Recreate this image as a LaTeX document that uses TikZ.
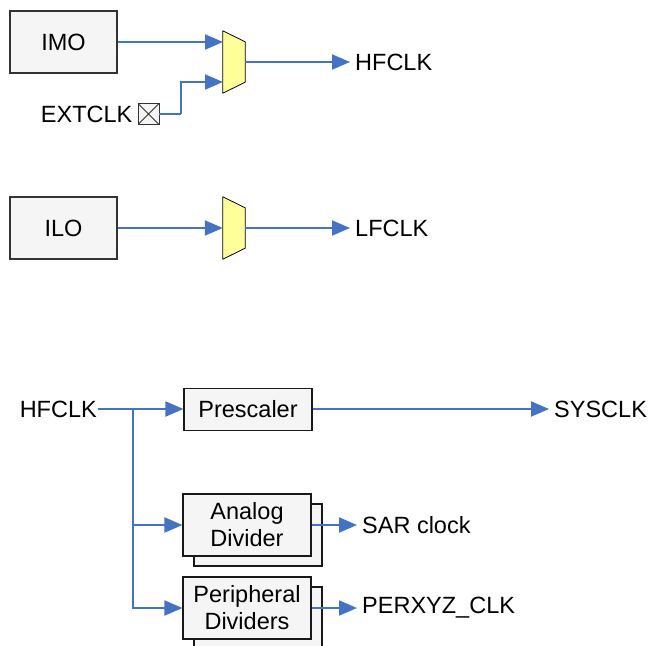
\documentclass[tikz,border=0pt]{standalone}
\usepackage{fontspec}
\setmainfont{Liberation Sans}
\usetikzlibrary{arrows.meta,positioning}

\definecolor{wire}{HTML}{4472C4}
\definecolor{boxfill}{HTML}{F5F5F5}
\definecolor{muxfill}{HTML}{FFFF99}

\begin{document}
\begin{tikzpicture}[x=1pt, y=-1pt, font=\fontsize{23.5}{27}\selectfont,
  block/.style={draw=black!80, fill=boxfill, line width=1.1pt, minimum width=107pt, minimum height=62pt},
  divider/.style={draw=black!90, fill=boxfill, line width=1.1pt, minimum width=128pt, minimum height=62pt, align=center, inner sep=0pt},
  mux/.style={minimum width=22pt, minimum height=62pt, inner sep=0pt},
  muxline/.style={draw=black, fill=muxfill, line width=0.8pt, line join=round},
  pinbox/.style={draw=black!80, fill=boxfill, line width=0.8pt, minimum size=21pt, inner sep=0pt,
    path picture={\draw[black!80, line width=0.8pt] (path picture bounding box.north west) -- (path picture bounding box.south east)
      (path picture bounding box.south west) -- (path picture bounding box.north east);}},
  lbl/.style={inner ysep=3pt, inner xsep=5pt},
  post/.style={draw=wire, line width=2pt, -{Triangle[length=18pt,width=15pt]}},
  wireline/.style={draw=wire, line width=2pt}]

  \useasboundingbox (0,0) rectangle (650,645);

  % high frequency source
  \node [block] (imo) at (63.5,42) {IMO};
  \node [mux] (mux1) at (234,62) {};
  \node [pinbox] (pin) at (148.5,114) {};
  \node [lbl, anchor=east] (extclk) at (pin.west) {EXTCLK};
  \node [lbl, anchor=west] (hfclk) at (350,62) {HFCLK};
  \coordinate (mux1a) at (223,42);
  \coordinate (mux1b) at (223,82);
  \coordinate (bend) at (181,114);

  % low frequency source
  \node [block] (ilo) at (63.5,228) {ILO};
  \node [mux] (mux2) at (234,228) {};
  \node [lbl, anchor=west] (lfclk) at (350,228) {LFCLK};

  \foreach \m in {mux1,mux2}
    \draw [muxline] (\m.north west) -- ([yshift=-11pt]\m.north east)
      -- ([yshift=11pt]\m.south east) -- (\m.south west) -- cycle;

  % clock distribution
  \node [lbl, anchor=east, inner xsep=1pt] (hfin) at (98,409) {HFCLK};
  \node [divider, minimum height=42pt] (prescaler) at (248,409.5) {Prescaler};
  \node [lbl, anchor=west] (sysclk) at (549,409) {SYSCLK};
  \coordinate (split) at (133,409);

  \node [divider] (analogback) at (258,535) {};
  \node [divider] (analog) at (247,525) {Analog\\Divider};
  \node [lbl, anchor=west] (sarclk) at (357,525) {SAR clock};

  \node [divider] (periphback) at (258,618) {};
  \node [divider] (periph) at (247,608) {Peripheral\\Dividers};
  \node [lbl, anchor=west] (perclk) at (357,608) {PERXYZ\_CLK};

  \path
    (imo)        edge [post] (mux1a)
    (mux1.east)  edge [post] (hfclk)
    (ilo)        edge [post] (mux2.west)
    (mux2.east)  edge [post] (lfclk)
    (hfin)       edge [post] (prescaler.west |- hfin)
    (prescaler.east |- sysclk) edge [post] (sysclk)
    (analog)     edge [post] (sarclk)
    (periph)     edge [post] (perclk)
  ;
  \draw [wireline] (pin.east) -- (bend);
  \draw [post] (bend) |- (mux1b);
  \draw [post] (split) |- (analog.west);
  \draw [post] (split) |- (periph.west);

\end{tikzpicture}
\end{document}
